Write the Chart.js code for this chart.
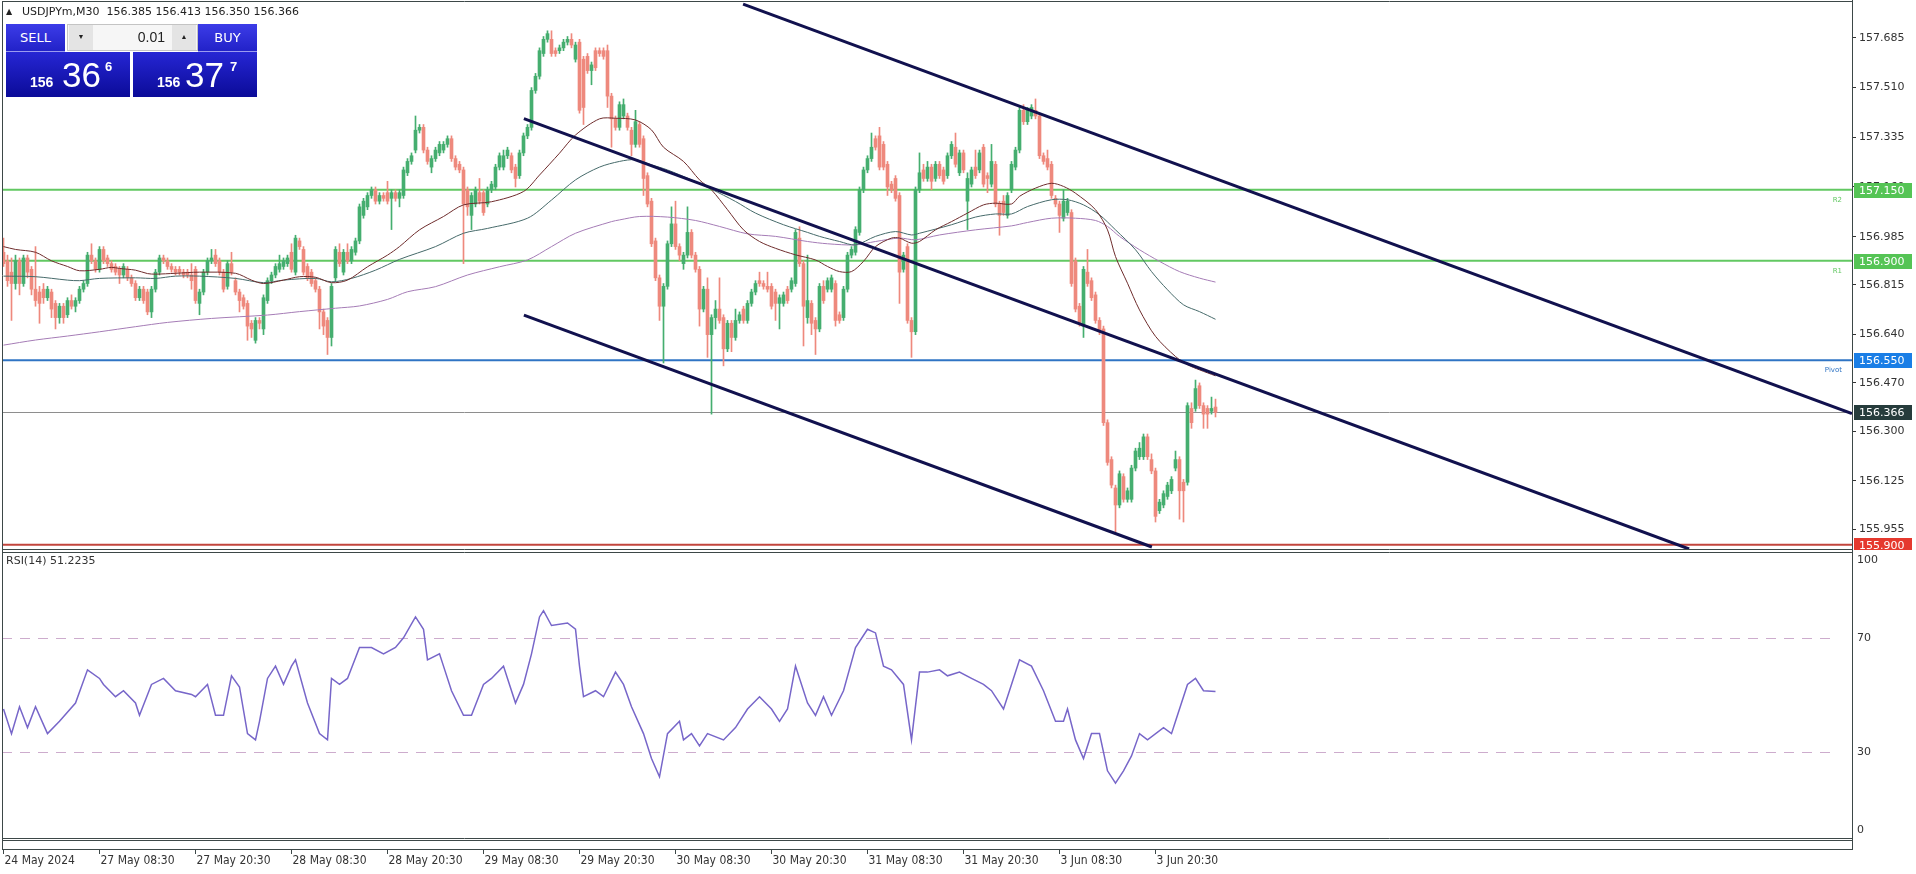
<!DOCTYPE html>
<html>
<head>
<meta charset="utf-8">
<script src="https://cdn.jsdelivr.net/npm/chart.js@4.4.1/dist/chart.umd.min.js"></script>
<style>
  body { margin: 0; background: #fff; width: 1916px; height: 874px; overflow: hidden; position: relative; }
  canvas { position: absolute; left: 0; }
  #main { top: 0; }
  #rsi { top: 550px; }
  #hdr { position: absolute; left: 6px; top: 5px; font: 11px 'DejaVu Sans', sans-serif; color: #222; white-space: pre; line-height: 14px; }
  #hdr .tri { font-size: 8px; display: inline-block; width: 16px; vertical-align: 1px; }
  .btn { position: absolute; top: 24px; height: 27px; width: 59px; background: linear-gradient(#3c3ce8, #2222c8); color: #fff;
         font: 13px 'DejaVu Sans', sans-serif; line-height: 27px; text-align: center; border-bottom: 1px solid #9a9af0; }
  .quote { position: absolute; top: 52px; height: 45px; width: 124px; background: linear-gradient(#2626d4, #0b0b98); color: #fff; }
  .quote span { position: absolute; white-space: nowrap; }
  .big { font: 35px 'Liberation Sans', sans-serif; line-height: 35px; top: 5px; }
  .small { font: bold 14px 'Liberation Sans', sans-serif; line-height: 14px; top: 23px; }
  .sup { font: bold 13px 'Liberation Sans', sans-serif; line-height: 13px; top: 8px; }
  .spin { position: absolute; left: 67px; top: 24px; width: 129px; height: 25px; background: #f6f6f6; border: 1px solid #c4c4c4; }
  .spin .b { position: absolute; top: 0; width: 24px; height: 25px; background: #e4e4e4; font-size: 7px; line-height: 25px; text-align: center; color: #222; }
  .spin .v { position: absolute; right: 32px; top: 0; font: 14px 'Liberation Sans', sans-serif; line-height: 25px; color: #222; }
</style>
</head>
<body>
<canvas id="main" width="1916" height="550"></canvas>
<canvas id="rsi" width="1916" height="324"></canvas>
<div id="hdr"><span class="tri">▲</span><span id="hdrText"></span></div>
<div class="btn" style="left:6px">SELL</div>
<div class="spin"><div class="b" style="left:1px">▼</div><div class="v">0.01</div><div class="b" style="right:1px">▲</div></div>
<div class="btn" style="left:198px">BUY</div>
<div class="quote" style="left:6px"><span class="small" id="sellA" style="left:24px"></span><span class="big" id="sellB" style="left:56px"></span><span class="sup" id="sellC" style="left:99px"></span></div>
<div class="quote" style="left:133px"><span class="small" id="buyA" style="left:24px"></span><span class="big" id="buyB" style="left:52px"></span><span class="sup" id="buyC" style="left:97px"></span></div>
<script>
// USDJPYm M30 : bougies [open, high, low, close], une par barre de 30 min
const symbol = 'USDJPYm,M30';
const candles = [
  [156.93,156.98,156.88,156.89],[156.90,156.92,156.81,156.83],[156.86,156.91,156.69,156.82],[156.82,156.92,156.80,156.90],
  [156.90,156.91,156.78,156.82],[156.82,156.92,156.81,156.91],[156.91,156.92,156.84,156.86],[156.87,156.88,156.78,156.80],
  [156.80,156.95,156.74,156.76],[156.79,156.81,156.68,156.75],[156.80,156.82,156.75,156.77],[156.77,156.81,156.76,156.80],
  [156.79,156.80,156.70,156.73],[156.75,156.76,156.66,156.70],[156.70,156.75,156.68,156.74],[156.74,156.75,156.68,156.70],
  [156.71,156.77,156.70,156.76],[156.76,156.78,156.73,156.74],[156.74,156.77,156.72,156.76],[156.76,156.81,156.75,156.80],
  [156.80,156.83,156.79,156.82],[156.82,156.93,156.81,156.92],[156.92,156.96,156.89,156.90],[156.90,156.91,156.86,156.87],
  [156.87,156.95,156.86,156.94],[156.94,156.95,156.89,156.90],[156.91,156.92,156.88,156.89],[156.89,156.90,156.86,156.87],
  [156.88,156.89,156.85,156.86],[156.87,156.88,156.82,156.85],[156.85,156.89,156.84,156.88],[156.87,156.88,156.83,156.84],
  [156.84,156.85,156.81,156.82],[156.82,156.83,156.76,156.77],[156.77,156.81,156.76,156.80],[156.80,156.81,156.75,156.76],
  [156.79,156.80,156.71,156.72],[156.72,156.81,156.70,156.80],[156.80,156.87,156.79,156.86],[156.86,156.92,156.85,156.91],
  [156.91,156.92,156.89,156.90],[156.90,156.91,156.87,156.88],[156.88,156.89,156.86,156.87],[156.87,156.88,156.85,156.86],
  [156.87,156.88,156.85,156.86],[156.86,156.87,156.84,156.85],[156.86,156.87,156.84,156.85],[156.85,156.89,156.80,156.83],
  [156.87,156.88,156.75,156.76],[156.75,156.80,156.71,156.79],[156.79,156.87,156.78,156.86],[156.86,156.91,156.85,156.90],
  [156.90,156.94,156.89,156.91],[156.92,156.94,156.88,156.89],[156.90,156.91,156.85,156.86],[156.86,156.87,156.79,156.80],
  [156.81,156.90,156.80,156.89],[156.89,156.93,156.85,156.86],[156.83,156.84,156.78,156.79],[156.79,156.80,156.72,156.76],
  [156.77,156.78,156.73,156.74],[156.75,156.76,156.62,156.67],[156.68,156.69,156.63,156.66],[156.62,156.70,156.61,156.69],
  [156.69,156.70,156.66,156.68],[156.66,156.78,156.64,156.77],[156.76,156.84,156.75,156.83],[156.83,156.86,156.82,156.85],
  [156.85,156.89,156.84,156.88],[156.87,156.92,156.86,156.89],[156.88,156.91,156.87,156.90],[156.89,156.92,156.88,156.91],
  [156.93,156.96,156.86,156.87],[156.86,156.99,156.85,156.98],[156.97,156.98,156.94,156.95],[156.94,156.95,156.85,156.86],
  [156.88,156.89,156.83,156.84],[156.86,156.87,156.81,156.82],[156.83,156.84,156.79,156.80],[156.80,156.81,156.66,156.72],
  [156.72,156.73,156.64,156.67],[156.69,156.70,156.57,156.63],[156.63,156.82,156.60,156.81],[156.84,156.95,156.83,156.94],
  [156.93,156.96,156.88,156.89],[156.86,156.94,156.85,156.93],[156.93,156.96,156.89,156.90],[156.90,156.95,156.89,156.94],
  [156.93,156.98,156.92,156.97],[156.97,157.10,156.96,157.09],[157.06,157.12,157.05,157.11],[157.09,157.14,157.08,157.13],
  [157.13,157.16,157.12,157.15],[157.15,157.16,157.10,157.11],[157.11,157.14,157.10,157.13],[157.13,157.14,157.11,157.12],
  [157.14,157.18,157.10,157.11],[157.12,157.15,157.01,157.14],[157.14,157.15,157.11,157.12],[157.12,157.15,157.09,157.14],
  [157.13,157.23,157.12,157.22],[157.21,157.26,157.20,157.25],[157.25,157.28,157.24,157.27],[157.29,157.41,157.28,157.36],
  [157.36,157.38,157.35,157.37],[157.37,157.38,157.28,157.29],[157.29,157.30,157.24,157.25],[157.23,157.27,157.21,157.26],
  [157.26,157.30,157.25,157.29],[157.28,157.32,157.27,157.31],[157.29,157.32,157.28,157.31],[157.31,157.34,157.30,157.33],
  [157.33,157.34,157.25,157.26],[157.26,157.27,157.22,157.23],[157.24,157.25,157.21,157.22],[157.22,157.23,156.89,157.10],
  [157.15,157.16,157.06,157.09],[157.06,157.14,157.01,157.13],[157.10,157.16,157.09,157.15],[157.14,157.19,157.10,157.11],
  [157.14,157.15,157.06,157.07],[157.10,157.16,157.09,157.15],[157.15,157.18,157.14,157.17],[157.16,157.24,157.15,157.23],
  [157.23,157.28,157.22,157.27],[157.23,157.29,157.22,157.27],[157.27,157.30,157.26,157.29],[157.27,157.28,157.21,157.22],
  [157.23,157.24,157.16,157.19],[157.20,157.29,157.19,157.28],[157.28,157.35,157.27,157.34],[157.34,157.38,157.33,157.37],
  [157.37,157.51,157.36,157.50],[157.50,157.56,157.49,157.55],[157.55,157.65,157.54,157.64],[157.63,157.69,157.62,157.68],
  [157.68,157.71,157.67,157.70],[157.68,157.71,157.62,157.63],[157.64,157.65,157.62,157.63],[157.64,157.66,157.63,157.65],
  [157.65,157.68,157.64,157.67],[157.67,157.69,157.66,157.68],[157.68,157.70,157.65,157.66],[157.61,157.67,157.60,157.66],
  [157.67,157.68,157.42,157.43],[157.61,157.62,157.38,157.44],[157.62,157.63,157.56,157.57],[157.57,157.60,157.52,157.59],
  [157.64,157.65,157.57,157.58],[157.64,157.65,157.62,157.63],[157.64,157.65,157.61,157.62],[157.64,157.66,157.44,157.48],
  [157.48,157.49,157.30,157.40],[157.40,157.41,157.36,157.37],[157.37,157.46,157.36,157.45],[157.41,157.47,157.40,157.45],
  [157.41,157.42,157.36,157.37],[157.36,157.37,157.27,157.31],[157.31,157.43,157.30,157.39],[157.38,157.39,157.30,157.31],
  [157.33,157.34,157.13,157.19],[157.20,157.21,157.09,157.10],[157.11,157.12,156.95,156.96],[156.97,156.98,156.83,156.84],
  [156.84,156.85,156.69,156.74],[156.74,156.82,156.54,156.81],[156.81,156.97,156.80,156.96],[156.96,157.09,156.95,157.03],
  [157.03,157.11,156.94,156.95],[156.95,156.96,156.90,156.92],[156.89,156.93,156.87,156.92],[156.92,157.09,156.91,157.00],
  [157.00,157.01,156.91,156.92],[156.92,156.93,156.86,156.87],[156.87,156.88,156.67,156.73],[156.73,156.81,156.72,156.80],
  [156.80,156.84,156.56,156.64],[156.64,156.71,156.36,156.70],[156.70,156.76,156.66,156.73],[156.73,156.84,156.68,156.69],
  [156.70,156.71,156.53,156.59],[156.59,156.69,156.58,156.68],[156.68,156.69,156.58,156.63],[156.63,156.73,156.62,156.69],
  [156.69,156.72,156.68,156.71],[156.73,156.74,156.68,156.69],[156.69,156.76,156.68,156.75],[156.75,156.80,156.74,156.79],
  [156.79,156.83,156.78,156.82],[156.83,156.86,156.81,156.82],[156.82,156.83,156.80,156.81],[156.81,156.86,156.79,156.80],
  [156.81,156.82,156.73,156.74],[156.79,156.80,156.69,156.75],[156.75,156.78,156.66,156.77],[156.75,156.79,156.74,156.78],
  [156.80,156.81,156.75,156.76],[156.80,156.84,156.79,156.83],[156.82,157.01,156.81,157.00],[156.98,157.02,156.88,156.89],
  [156.89,156.90,156.60,156.74],[156.70,156.92,156.68,156.76],[156.75,156.76,156.64,156.68],[156.69,156.70,156.57,156.66],
  [156.66,156.82,156.65,156.81],[156.81,156.83,156.75,156.76],[156.80,156.84,156.79,156.83],[156.80,156.85,156.79,156.84],
  [156.82,156.83,156.67,156.69],[156.71,156.72,156.68,156.69],[156.70,156.81,156.69,156.80],[156.80,156.93,156.79,156.92],
  [156.92,156.95,156.91,156.94],[156.93,157.02,156.92,157.01],[157.00,157.16,156.99,157.15],[157.15,157.23,157.14,157.22],
  [157.22,157.27,157.21,157.26],[157.26,157.35,157.25,157.30],[157.33,157.34,157.29,157.30],[157.34,157.37,157.22,157.23],
  [157.31,157.32,157.22,157.23],[157.24,157.25,157.13,157.16],[157.17,157.18,157.14,157.15],[157.19,157.20,157.11,157.12],
  [157.13,157.14,156.75,156.86],[156.87,156.93,156.86,156.92],[156.95,156.96,156.68,156.69],[156.69,156.70,156.56,156.65],
  [156.65,157.16,156.64,157.15],[157.15,157.28,157.14,157.21],[157.22,157.24,157.18,157.19],[157.19,157.25,157.18,157.23],
  [157.23,157.24,157.15,157.18],[157.19,157.25,157.18,157.24],[157.24,157.25,157.19,157.20],[157.22,157.23,157.17,157.18],
  [157.20,157.28,157.19,157.27],[157.27,157.32,157.26,157.31],[157.30,157.35,157.23,157.24],[157.21,157.29,157.20,157.28],
  [157.28,157.29,157.21,157.22],[157.11,157.21,157.01,157.19],[157.17,157.23,157.16,157.22],[157.23,157.29,157.19,157.20],
  [157.22,157.29,157.21,157.28],[157.30,157.31,157.16,157.17],[157.20,157.21,157.14,157.19],[157.17,157.31,157.16,157.25],
  [157.24,157.25,157.09,157.10],[157.10,157.11,156.99,157.06],[157.11,157.13,157.06,157.07],[157.06,157.14,157.05,157.13],
  [157.15,157.25,157.14,157.24],[157.23,157.30,157.22,157.29],[157.29,157.44,157.28,157.43],[157.43,157.45,157.38,157.39],
  [157.39,157.44,157.38,157.43],[157.41,157.45,157.40,157.44],[157.43,157.47,157.40,157.41],[157.41,157.42,157.26,157.27],
  [157.27,157.28,157.24,157.25],[157.26,157.29,157.22,157.23],[157.24,157.25,157.12,157.13],[157.12,157.13,157.09,157.10],
  [157.10,157.11,157.00,157.06],[157.05,157.15,157.04,157.11],[157.07,157.12,157.06,157.11],[157.07,157.08,156.81,156.82],
  [156.90,156.91,156.72,156.73],[156.74,156.75,156.67,156.68],[156.67,156.88,156.63,156.87],[156.86,156.94,156.81,156.82],
  [156.83,156.84,156.76,156.77],[156.78,156.79,156.68,156.69],[156.69,156.70,156.64,156.65],[156.66,156.67,156.32,156.33],
  [156.33,156.34,156.18,156.19],[156.20,156.21,156.10,156.11],[156.10,156.11,155.94,156.04],[156.04,156.16,156.03,156.15],
  [156.14,156.15,156.05,156.06],[156.06,156.10,156.05,156.09],[156.06,156.18,156.05,156.17],[156.17,156.24,156.16,156.23],
  [156.21,156.26,156.20,156.24],[156.21,156.29,156.20,156.28],[156.28,156.29,156.20,156.21],[156.20,156.22,156.15,156.16],
  [156.16,156.17,155.98,156.00],[156.02,156.06,156.01,156.05],[156.04,156.09,156.03,156.08],[156.07,156.12,156.06,156.11],
  [156.09,156.14,156.08,156.13],[156.17,156.23,156.16,156.20],[156.20,156.21,155.99,156.09],[156.12,156.13,155.98,156.09],
  [156.12,156.40,156.11,156.39],[156.38,156.40,156.31,156.33],[156.38,156.48,156.37,156.45],[156.46,156.47,156.38,156.39],
  [156.39,156.40,156.31,156.36],[156.38,156.39,156.31,156.36],[156.37,156.42,156.36,156.38],[156.385,156.413,156.350,156.366]
];

// moyennes mobiles : [barre, prix]
const maFast = [[0,156.95],[3,156.94],[8,156.93],[12,156.90],[16,156.88],[19,156.865],[24,156.87],[27,156.877],[29,156.873],
  [33,156.867],[36,156.855],[38,156.853],[43,156.856],[49,156.86],[58,156.856],[62,156.832],[65,156.82],[70,156.832],[74,156.844],
  [78,156.842],[82,156.823],[86,156.832],[91,156.879],[96,156.92],[99,156.95],[104,157.009],[110,157.056],[115,157.097],[122,157.108],
  [130,157.144],[134,157.202],[139,157.279],[143,157.343],[149,157.40],[153,157.402],[158,157.396],[162,157.361],[165,157.30],
  [170,157.25],[174,157.185],[177,157.15],[181,157.08],[185,157.009],[189,156.968],[193,156.944],[198,156.921],[203,156.903],
  [206,156.88],[209,156.862],[212,156.862],[215,156.898],[218,156.95],[222,156.98],[224,156.98],[227,156.962],[229,156.968],
  [233,157.009],[237,157.038],[241,157.068],[245,157.097],[248,157.103],[252,157.10],[254,157.127],[258,157.156],[262,157.173],
  [265,157.162],[268,157.138],[273,157.08],[276,157.009],[278,156.915],[281,156.821],[284,156.727],[288,156.634],[293,156.563],
  [296,156.534],[299,156.516],[303,156.495]];
const maMid = [[0,156.846],[8,156.844],[16,156.832],[19,156.83],[24,156.838],[33,156.84],[38,156.838],[43,156.846],[49,156.846],
  [58,156.838],[65,156.823],[70,156.832],[78,156.838],[82,156.826],[87,156.838],[93,156.867],[99,156.905],[108,156.95],[115,156.997],
  [121,157.014],[131,157.05],[137,157.114],[143,157.185],[149,157.23],[154,157.25],[158,157.256],[162,157.238],[166,157.22],
  [172,157.185],[177,157.152],[183,157.109],[188,157.068],[195,157.027],[201,157.0],[204,156.986],[209,156.968],[213,156.956],
  [218,156.986],[223,157.003],[227,156.991],[229,156.997],[237,157.027],[243,157.054],[248,157.065],[252,157.065],[256,157.091],
  [262,157.115],[266,157.115],[270,157.097],[274,157.062],[278,157.009],[283,156.939],[287,156.862],[291,156.798],[295,156.745],
  [299,156.721],[303,156.694]];
const maSlow = [[0,156.603],[8,156.621],[16,156.635],[24,156.65],[33,156.668],[41,156.683],[52,156.697],[66,156.709],[74,156.721],
  [83,156.733],[89,156.741],[96,156.764],[101,156.791],[108,156.809],[116,156.85],[124,156.879],[131,156.903],[137,156.95],
  [143,156.997],[152,157.038],[154,157.044],[159,157.056],[166,157.054],[173,157.042],[179,157.021],[186,156.995],[193,156.986],
  [201,156.968],[206,156.96],[213,156.956],[218,156.968],[224,156.98],[228,156.974],[234,156.991],[243,157.009],[252,157.023],
  [256,157.035],[262,157.05],[268,157.05],[273,157.042],[276,157.021],[279,156.986],[284,156.939],[289,156.898],[294,156.862],
  [299,156.839],[303,156.825]];

// lignes de tendance : [[barre, prix], [barre, prix]]
const trendLines = [
  [[184.9,157.804],[462.1,156.362]],
  [[130.1,157.401],[421.4,155.885]],
  [[130.1,156.709],[287.1,155.892]]
];

const levelPrices = [157.150, 156.900, 156.550, 155.900];
const levelNames = ['R2', 'R1', 'Pivot', ''];
const bid = 156.366;
const ask = 156.377;
const priceTicks = [157.685, 157.510, 157.335, 157.160, 156.985, 156.815, 156.640, 156.470, 156.300, 156.125, 155.955];

const tickBars = [0, 24, 48, 72, 96, 120, 144, 168, 192, 216, 240, 264, 288];
const tickLabels = ['24 May 2024', '27 May 08:30', '27 May 20:30', '28 May 08:30', '28 May 20:30', '29 May 08:30',
  '29 May 20:30', '30 May 08:30', '30 May 20:30', '31 May 08:30', '31 May 20:30', '3 Jun 08:30', '3 Jun 20:30'];

// RSI(14) : [barre, valeur]
const rsiPoints = [[0,45.1],[2,36.5],[4,45.9],[6,38.6],[8,45.9],[11,36.5],[14,40.8],[18,47.2],[21,58.8],[24,55.8],[25,53.7],
  [28,49.4],[30,51.5],[33,47.2],[34,42.9],[37,53.7],[40,55.8],[43,51.5],[47,50.2],[48,49.4],[51,53.7],[53,42.9],[55,42.9],
  [57,56.7],[59,52.8],[61,36.5],[63,34.3],[64,40.8],[66,55.8],[68,60.1],[70,53.7],[72,60.1],[73,62.3],[76,47.2],[79,36.5],
  [81,34.3],[82,55.8],[84,53.7],[86,55.8],[89,66.6],[92,66.6],[95,64.4],[98,66.6],[100,70.0],[103,77.3],[105,73.0],[106,62.3],
  [109,64.4],[110,60.1],[112,51.5],[115,42.9],[117,42.9],[120,53.7],[122,55.8],[125,60.1],[126,55.8],[128,47.2],[130,53.7],
  [132,64.4],[134,77.3],[135,79.5],[137,74.3],[141,75.2],[143,73.0],[144,60.1],[145,49.4],[148,51.5],[150,49.4],[153,58.0],
  [155,53.7],[157,45.9],[160,36.5],[162,27.8],[164,21.4],[166,36.5],[169,40.8],[170,34.3],[172,36.5],[174,32.2],[176,36.5],
  [180,34.3],[183,38.6],[186,45.1],[189,49.4],[192,45.1],[194,40.8],[196,45.1],[198,60.1],[201,47.2],[203,42.9],[205,49.4],
  [207,42.9],[210,51.5],[213,66.6],[216,73.0],[218,71.7],[220,60.1],[222,58.8],[225,53.7],[227,34.3],[229,58.0],[231,58.0],
  [234,58.8],[236,56.7],[239,58.0],[242,55.8],[245,53.7],[247,51.5],[250,45.1],[252,53.7],[254,62.3],[257,60.1],[260,51.5],
  [263,40.8],[265,40.8],[266,45.1],[268,34.3],[270,27.8],[272,36.5],[274,36.5],[276,23.5],[278,19.2],[280,23.5],[282,28.7],
  [284,36.5],[286,34.3],[290,38.6],[292,36.5],[293,40.8],[296,53.7],[298,55.8],[300,51.5],[303,51.2235]];
const rsiLast = 51.2235;
const rsiLevels = [70, 30];
const rsiTicks = [100, 70, 30, 0];

// styles
const UP = '#45ae6f', DOWN = '#ee897d';
const levelLineColors = ['#62c862', '#62c862', '#2f74c4', '#c2453c'];
const levelBoxColors = ['#55c455', '#55c455', '#1a7ee6', '#e5392e'];
const X_MIN = -0.375, X_MAX = 462.125;
const FONT = "'DejaVu Sans', sans-serif";

Chart.defaults.font.family = FONT;

// texte d'en-tête et panneau SELL/BUY
const last = candles[candles.length - 1];
document.getElementById('hdrText').textContent = symbol + '  ' + [last[0], last[1], last[2], last[3]].map(v => v.toFixed(3)).join(' ');
function splitQuote(p) {
  const s = p.toFixed(3);
  return [s.slice(0, 3), s.slice(4, 6), s.slice(6)];
}
const [sa, sb, sc] = splitQuote(bid);
const [ba, bb, bc] = splitQuote(ask);
document.getElementById('sellA').textContent = sa;
document.getElementById('sellB').textContent = sb;
document.getElementById('sellC').textContent = sc;
document.getElementById('buyA').textContent = ba;
document.getElementById('buyB').textContent = bb;
document.getElementById('buyC').textContent = bc;

const candleColors = candles.map(c => c[3] >= c[0] ? UP : DOWN);

function maDataset(points, color) {
  return {
    type: 'line', data: points.map(p => ({ x: p[0], y: p[1] })), borderColor: color, borderWidth: 1,
    pointRadius: 0, tension: 0.3, order: 1
  };
}

const mainOverlay = {
  id: 'mainOverlay',
  beforeDatasetsDraw(chart) {
    const { ctx, chartArea: a, scales: { y } } = chart;
    ctx.save();
    ctx.beginPath(); ctx.rect(a.left, a.top, a.right - a.left, a.bottom - a.top); ctx.clip();
    const yb = Math.round(y.getPixelForValue(bid)) + 0.5;
    ctx.strokeStyle = '#8e8e8e'; ctx.lineWidth = 1;
    ctx.beginPath(); ctx.moveTo(a.left, yb); ctx.lineTo(a.right, yb); ctx.stroke();
    levelPrices.forEach((p, i) => {
      const yy = y.getPixelForValue(p);
      ctx.strokeStyle = levelLineColors[i]; ctx.lineWidth = 2;
      ctx.beginPath(); ctx.moveTo(a.left, yy); ctx.lineTo(a.right, yy); ctx.stroke();
      if (levelNames[i]) {
        ctx.font = '7px ' + FONT; ctx.fillStyle = levelLineColors[i]; ctx.textAlign = 'right'; ctx.textBaseline = 'middle';
        ctx.fillText(levelNames[i], a.right - 10, yy + 10);
      }
    });
    ctx.restore();
  },
  afterDraw(chart) {
    const { ctx, chartArea: a, scales: { y } } = chart;
    ctx.save();
    ctx.strokeStyle = '#3d4848'; ctx.lineWidth = 1;
    ctx.beginPath();
    ctx.moveTo(a.left + 0.5, a.top); ctx.lineTo(a.left + 0.5, a.bottom + 1);
    ctx.moveTo(a.left, a.top + 0.5); ctx.lineTo(a.right, a.top + 0.5);
    ctx.moveTo(a.left, a.bottom + 0.5); ctx.lineTo(a.right, a.bottom + 0.5);
    ctx.moveTo(a.right + 0.5, 0); ctx.lineTo(a.right + 0.5, chart.height);
    ctx.stroke();
    const boxes = levelPrices.map((p, i) => [p, levelBoxColors[i]]);
    boxes.push([bid, '#263c3c']);
    ctx.font = '11px ' + FONT; ctx.textBaseline = 'middle'; ctx.textAlign = 'left';
    boxes.forEach(([p, col]) => {
      const yy = Math.round(y.getPixelForValue(p));
      ctx.fillStyle = col;
      ctx.fillRect(a.right + 2, yy - 7, 58, 15);
      ctx.fillStyle = '#fff';
      ctx.fillText(p.toFixed(3), a.right + 7, yy + 1);
    });
    ctx.restore();
  }
};

new Chart(document.getElementById('main'), {
  type: 'bar',
  data: {
    datasets: [
      ...trendLines.map(t => ({
        type: 'line', data: t.map(p => ({ x: p[0], y: p[1] })), borderColor: '#11114e', borderWidth: 3,
        pointRadius: 0, order: 0
      })),
      maDataset(maFast, '#6e2c2c'),
      maDataset(maMid, '#466a6a'),
      maDataset(maSlow, '#a57cb6'),
      {
        label: 'bodies', data: candles.map((c, i) => ({ x: i, y: [c[0], c[3]] })), backgroundColor: candleColors,
        barThickness: 3, minBarLength: 1, grouped: false, borderWidth: 0, order: 2
      },
      {
        label: 'wicks', data: candles.map((c, i) => ({ x: i, y: [c[2], c[1]] })), backgroundColor: candleColors,
        barThickness: 1, grouped: false, borderWidth: 0, order: 3
      }
    ]
  },
  options: {
    responsive: false, animation: false, devicePixelRatio: 1,
    layout: { padding: { left: 2, top: 1, right: 0, bottom: 1 } },
    plugins: { legend: { display: false }, tooltip: { enabled: false } },
    scales: {
      x: { type: 'linear', min: X_MIN, max: X_MAX, display: false, offset: false },
      y: {
        position: 'right', min: 155.885, max: 157.815,
        afterBuildTicks(scale) { scale.ticks = priceTicks.map(v => ({ value: v })); },
        afterFit(scale) { scale.width = 64; scale.paddingTop = 0; scale.paddingBottom = 0; },
        ticks: { color: '#333', font: { size: 11 }, padding: 3, callback: v => Number(v).toFixed(3) },
        grid: { drawOnChartArea: false, drawTicks: true, tickLength: 4, color: '#333' },
        border: { display: true, color: '#3d4848' }
      }
    }
  },
  plugins: [mainOverlay]
});

const rsiOverlay = {
  id: 'rsiOverlay',
  beforeDatasetsDraw(chart) {
    const { ctx, chartArea: a, scales: { y } } = chart;
    ctx.save();
    ctx.strokeStyle = '#cdaccd'; ctx.lineWidth = 1; ctx.setLineDash([10, 8]);
    rsiLevels.forEach(v => {
      const yy = Math.round(y.getPixelForValue(v)) + 0.5;
      ctx.beginPath(); ctx.moveTo(a.left, yy); ctx.lineTo(a.right - 14, yy); ctx.stroke();
    });
    ctx.restore();
  },
  afterDraw(chart) {
    const { ctx, chartArea: a, scales: { x, y } } = chart;
    ctx.save();
    ctx.strokeStyle = '#3d4848'; ctx.lineWidth = 1;
    ctx.beginPath();
    ctx.moveTo(a.left + 0.5, 0); ctx.lineTo(a.left + 0.5, a.bottom + 12);
    ctx.moveTo(a.left, a.top + 0.5); ctx.lineTo(a.right, a.top + 0.5);
    ctx.moveTo(a.left, a.bottom + 0.5); ctx.lineTo(a.right, a.bottom + 0.5);
    ctx.moveTo(a.right + 0.5, 0); ctx.lineTo(a.right + 0.5, a.bottom + 12);
    ctx.stroke();
    ctx.strokeRect(a.left + 0.5, a.bottom + 2.5, a.right - a.left, 9);
    ctx.fillStyle = '#333'; ctx.font = '11px ' + FONT; ctx.textBaseline = 'middle'; ctx.textAlign = 'left';
    ctx.fillText('RSI(14) ' + rsiLast.toFixed(4), a.left + 4, a.top + 9);
    rsiTicks.forEach(v => {
      const yy = Math.min(Math.max(y.getPixelForValue(v), a.top + 8), a.bottom - 8);
      ctx.fillText(String(v), a.right + 5, yy);
    });
    ctx.font = "12px 'DejaVu Sans Condensed', 'Liberation Sans Narrow', sans-serif";
    tickBars.forEach((b, i) => {
      const px = Math.round(x.getPixelForValue(b)) - 0.5;
      ctx.beginPath(); ctx.moveTo(px, a.bottom + 12); ctx.lineTo(px, a.bottom + 16); ctx.stroke();
      ctx.fillText(tickLabels[i], px + 1, a.bottom + 23);
    });
    ctx.restore();
  }
};

new Chart(document.getElementById('rsi'), {
  type: 'line',
  data: {
    datasets: [{
      data: rsiPoints.map(p => ({ x: p[0], y: p[1] })), borderColor: '#7766c9', borderWidth: 1.5,
      pointRadius: 0, tension: 0
    }]
  },
  options: {
    responsive: false, animation: false, devicePixelRatio: 1,
    layout: { padding: { left: 2, top: 2, right: 0, bottom: 36 } },
    plugins: { legend: { display: false }, tooltip: { enabled: false } },
    scales: {
      x: { type: 'linear', min: X_MIN, max: X_MAX, display: false },
      y: {
        position: 'right', min: 0, max: 100,
        afterFit(scale) { scale.width = 64; scale.paddingTop = 0; scale.paddingBottom = 0; },
        ticks: { display: false },
        grid: { display: false },
        border: { display: false }
      }
    }
  },
  plugins: [rsiOverlay]
});
</script>
</body>
</html>
